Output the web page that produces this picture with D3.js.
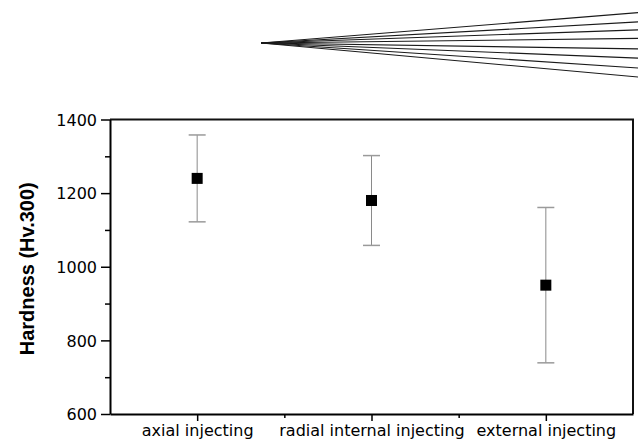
<!DOCTYPE html>
<html>
<head>
<meta charset="utf-8">
<script src="https://cdn.jsdelivr.net/npm/d3@7"></script>
<style>
  body { margin: 0; background: #fff; }
  svg { display: block; }
  .tick text { font-family: "DejaVu Sans", sans-serif; font-size: 16px; fill: #000; }
  .axis-title { font-family: "Liberation Sans", Arial, sans-serif; font-weight: bold; font-size: 20px; }
</style>
</head>
<body>
<svg id="chart"></svg>
<script>
// categories and measured hardness (mean, +/- error)
const categories = ["axial injecting", "radial internal injecting", "external injecting"];
const hardness = [1240, 1180, 950];
const hardnessErr = [118, 122, 211];
const yTicks = [600, 800, 1000, 1200, 1400];
const yMinorTicks = [700, 900, 1100, 1300];
// decorative fan of lines at the top (angles in degrees)
const fanAngles = [-4.6, -3.2, -2.0, -0.7, 0.9, 2.3, 3.8, 5.15];

const width = 638, height = 446;
const margin = { top: 119.5, right: 5, bottom: 32, left: 110 };

const svg = d3.select("#chart").attr("width", width).attr("height", height);

const x = d3.scaleLinear().domain([0.5, 3.5]).range([margin.left, width - margin.right]);
const y = d3.scaleLinear().domain([600, 1400]).range([height - margin.bottom, margin.top]);

// fan decoration
const fanX0 = 261, fanY0 = 43, fanX1 = 640;
svg.append("g")
  .selectAll("line")
  .data(fanAngles)
  .join("line")
  .attr("x1", fanX0).attr("y1", fanY0)
  .attr("x2", fanX1)
  .attr("y2", (a) => fanY0 + Math.tan(a * Math.PI / 180) * (fanX1 - fanX0))
  .attr("stroke", "#1a1a1a")
  .attr("stroke-width", 1.1);

// frame (top and right)
svg.append("path")
  .attr("d", `M${x(0.5)},${y(1400)}H${x(3.5)}V${y(600)}`)
  .attr("fill", "none")
  .attr("stroke", "#111")
  .attr("stroke-width", 2);

// y axis
const yAxisG = svg.append("g").attr("transform", `translate(${x(0.5)},0)`);
yAxisG.append("g")
  .call(d3.axisLeft(y).tickValues(yMinorTicks).tickSize(5).tickFormat(""))
  .call((g) => g.select(".domain").remove())
  .call((g) => g.selectAll("line").attr("stroke-width", 1.5));
yAxisG.append("g")
  .call(d3.axisLeft(y).tickValues(yTicks).tickSize(9).tickSizeOuter(0).tickPadding(4)
    .tickFormat(d3.format("d")))
  .call((g) => g.select(".domain").attr("stroke-width", 2))
  .call((g) => g.selectAll(".tick line").attr("stroke-width", 1.5))
  .call((g) => g.selectAll("text").attr("dy", "0.36em"));

// x axis
const xAxisG = svg.append("g").attr("transform", `translate(0,${y(600)})`);
xAxisG.append("g")
  .call(d3.axisBottom(x).tickValues([1.5, 2.5]).tickSize(4).tickFormat(""))
  .call((g) => g.select(".domain").remove())
  .call((g) => g.selectAll("line").attr("stroke-width", 1.5));
xAxisG.append("g")
  .call(d3.axisBottom(x).tickValues([1, 2, 3]).tickSize(7).tickSizeOuter(0).tickPadding(4)
    .tickFormat((d) => categories[d - 1]))
  .call((g) => g.select(".domain").attr("stroke-width", 2))
  .call((g) => g.selectAll(".tick line").attr("stroke-width", 1.5));

// y axis title
svg.append("text")
  .attr("class", "axis-title")
  .attr("transform", `translate(34,${(y(600) + y(1400)) / 2 + 2}) rotate(-90)`)
  .attr("text-anchor", "middle")
  .text("Hardness (Hv.300)");

// error bars
const bars = svg.append("g")
  .selectAll("g")
  .data(hardness)
  .join("g");

bars.append("line")
  .attr("x1", (d, i) => x(i + 1)).attr("x2", (d, i) => x(i + 1))
  .attr("y1", (d, i) => y(d + hardnessErr[i]))
  .attr("y2", (d, i) => y(d - hardnessErr[i]))
  .attr("stroke", "#8a8a8a")
  .attr("stroke-width", 1);

bars.selectAll(".cap")
  .data((d, i) => [[i, d + hardnessErr[i]], [i, d - hardnessErr[i]]])
  .join("line")
  .attr("class", "cap")
  .attr("x1", (c) => x(c[0] + 1) - 8.5)
  .attr("x2", (c) => x(c[0] + 1) + 8.5)
  .attr("y1", (c) => y(c[1]))
  .attr("y2", (c) => y(c[1]))
  .attr("stroke", "#9a9a9a")
  .attr("stroke-width", 1.5);

// mean markers
const sq = 11;
svg.append("g")
  .selectAll("rect")
  .data(hardness)
  .join("rect")
  .attr("x", (d, i) => x(i + 1) - sq / 2)
  .attr("y", (d) => y(d) - sq / 2)
  .attr("width", sq)
  .attr("height", sq)
  .attr("fill", "#000");
</script>
</body>
</html>
